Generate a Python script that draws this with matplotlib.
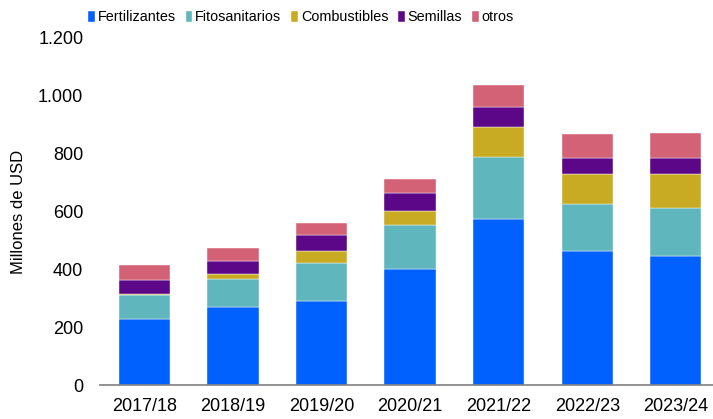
import matplotlib.pyplot as plt
import numpy as np

plt.rcParams['font.family'] = ['Liberation Sans', 'DejaVu Sans']

# campaigns
campanas = ["2017/18", "2018/19", "2019/20", "2020/21", "2021/22", "2022/23", "2023/24"]

# millones de USD por rubro
fertilizantes = [229, 271, 292, 400, 575, 463, 447]
fitosanitarios = [83, 96, 129, 152, 213, 162, 164]
combustibles = [4, 16, 42, 51, 103, 104, 118]
semillas = [46, 47, 56, 61, 71, 57, 55]
otros = [53, 44, 41, 48, 74, 82, 87]

series = [("Fertilizantes", fertilizantes, "#0061FF"),
          ("Fitosanitarios", fitosanitarios, "#5FB6BD"),
          ("Combustibles", combustibles, "#C8AB22"),
          ("Semillas", semillas, "#5C0788"),
          ("otros", otros, "#D46277")]

fig = plt.figure(figsize=(7.13, 4.19), dpi=100)
ax = fig.add_axes([100 / 713, 34 / 419, 613 / 713, 347 / 419])

x = np.arange(len(campanas))
bottom = np.zeros(len(campanas))
for name, vals, color in series:
    ax.bar(x, vals, width=0.58, bottom=bottom, color=color, label=name,
           edgecolor='white', linewidth=0.3)
    bottom += np.array(vals)

ax.set_xlim(-0.5, 6.42)
ax.set_ylim(0, 1200)
ax.set_yticks(range(0, 1201, 200))
ax.set_yticklabels(["0", "200", "400", "600", "800", "1.000", "1.200"])
ax.set_xticks(x)
ax.set_xticklabels(campanas)
ax.tick_params(axis='both', length=0, labelsize=13, colors='black')
ax.tick_params(axis='y', pad=12)
ax.tick_params(axis='x', pad=9)
for s in ['top', 'right', 'left']:
    ax.spines[s].set_visible(False)
ax.spines['bottom'].set_color('#7f7f7f')
ax.spines['bottom'].set_linewidth(1.2)

ax.set_ylabel("Millones de USD", fontsize=12)
ax.yaxis.set_label_coords(-74 / 613, 0.5)

fig.legend(loc='upper left', bbox_to_anchor=(78 / 713, 1.0), ncol=5, frameon=False,
           fontsize=10.4, handlelength=0.45, handleheight=0.8, handletextpad=0.2,
           columnspacing=0.7, borderaxespad=0.3)

fig.savefig("out.png", dpi=100)
